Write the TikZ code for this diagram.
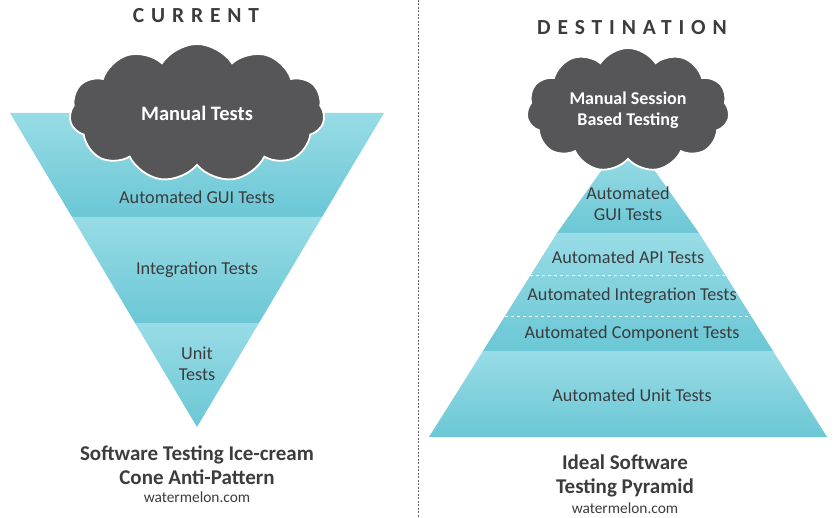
\documentclass[tikz,border=0pt]{standalone}
\usepackage{fontspec}
\setmainfont{Carlito}
\newfontfamily\spacedfont[LetterSpace=32]{Carlito}
\usepackage{xcolor}
\usetikzlibrary{shapes.symbols}
\definecolor{conelight}{HTML}{98DCE6}
\definecolor{conedark}{HTML}{6BC7D5}
\definecolor{cloudgray}{HTML}{565659}
\definecolor{labelgray}{HTML}{3C3C3E}
\tikzset{
  band/.style={top color=conelight, bottom color=conedark},
  lbl/.style={text=labelgray, align=center, font=\fontsize{18.2}{21}\selectfont},
  puff/.style={cloud, cloud puffs=11, cloud puff arc=115, cloud ignores aspect,
    fill=cloudgray, draw=white, line width=1.8pt, text=white, align=center},
  heading/.style={text=labelgray, font=\spacedfont\bfseries\fontsize{21.5}{26}\selectfont},
  caption/.style={text=labelgray, align=center, font=\bfseries\fontsize{21}{24.5}\selectfont},
  site/.style={text=labelgray, font=\fontsize{15.4}{18}\selectfont}
}

\begin{document}
\begin{tikzpicture}[x=1pt, y=-1pt]
  \useasboundingbox (0,0) rectangle (837,518);
  \draw[gray!80!black, dash pattern=on 2pt off 1.5pt] (418,0) -- (418,518);

  % ice-cream cone
  \shade[band] (10,113) -- (384,113) -- (322,217) -- (72,217) -- cycle;
  \shade[band] (72,217) -- (322,217) -- (259,323) -- (135,323) -- cycle;
  \shade[band] (135,323) -- (259,323) -- (197,427) -- cycle;
  \node[puff, minimum width=255pt, minimum height=138pt,
    font=\bfseries\fontsize{20.5}{24}\selectfont] (manual) at (197,113) {Manual Tests};
  \node[heading] (current) at (196,16) {CURRENT};
  \node[lbl] (gui) at (197,197) {Automated GUI Tests};
  \node[lbl] (integ) at (197,270) {Integration Tests};
  \node[lbl] (unit) at (197,364) {Unit\\Tests};
  \node[caption] (antipat) at (197,465) {Software Testing Ice-cream\\Cone Anti-Pattern};
  \node[site] (siteL) at (197,497) {watermelon.com};

  % pyramid
  \shade[band] (616,150) -- (640,150) -- (699,233) -- (557,233) -- cycle;
  \shade[band] (557,233) -- (699,233) -- (773,351) -- (483,351) -- cycle;
  \shade[band] (483,351) -- (773,351) -- (827,437) -- (429,437) -- cycle;
  \draw[white, dashed, line width=1pt] (530,276) -- (726,276);
  \draw[white, dashed, line width=1pt] (505,316) -- (751,316);
  \node[puff, minimum width=203pt, minimum height=124pt,
    font=\bfseries\fontsize{18}{20.5}\selectfont] (session) at (628,110) {Manual Session\\Based Testing};
  \node[heading] (dest) at (632,28) {DESTINATION};
  \node[lbl] (pgui) at (628,204) {Automated\\GUI Tests};
  \node[lbl] (papi) at (628,257) {Automated API Tests};
  \node[lbl] (pinteg) at (632,296) {Automated Integration Tests};
  \node[lbl] (pcomp) at (632,334) {Automated Component Tests};
  \node[lbl] (punit) at (632,395) {Automated Unit Tests};
  \node[caption] (pyramid) at (625,476) {Ideal Software\\Testing Pyramid};
  \node[site] (siteR) at (625,508) {watermelon.com};
\end{tikzpicture}
\end{document}
